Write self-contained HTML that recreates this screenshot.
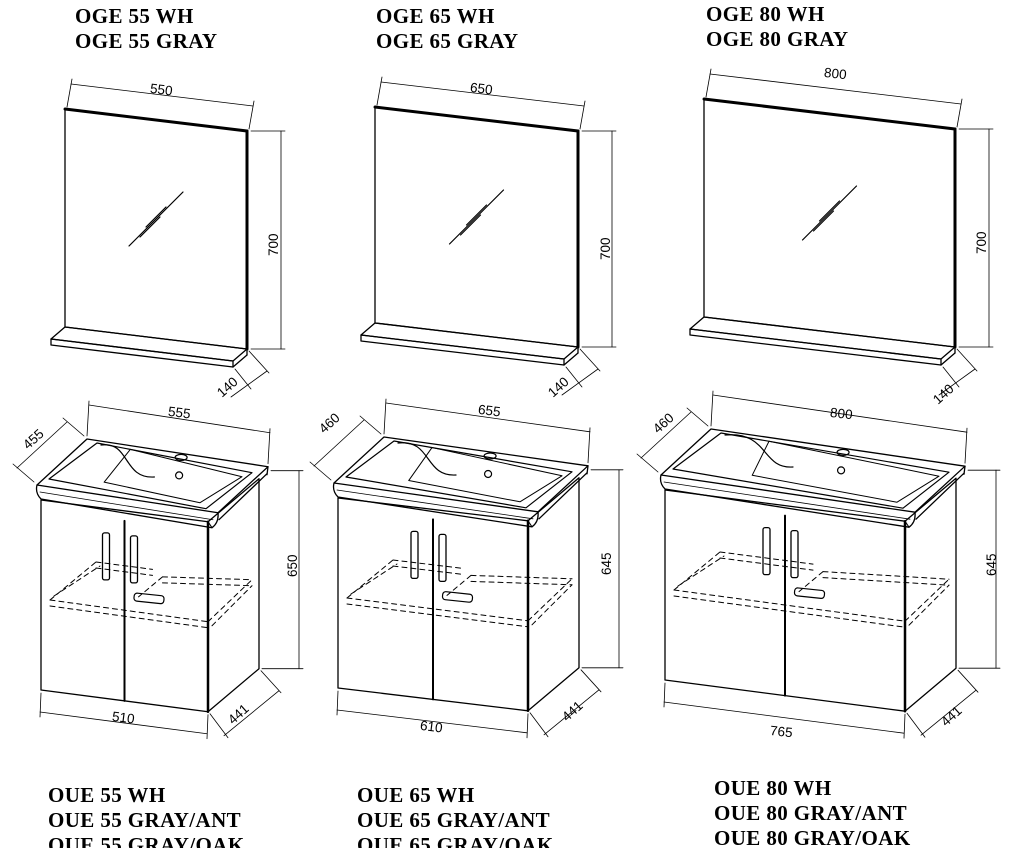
<!DOCTYPE html>
<html><head><meta charset="utf-8"><style>
html,body{margin:0;padding:0;background:#fff;}
svg{display:block}
.t{font-family:"Liberation Serif",serif;font-weight:bold;font-size:21px;letter-spacing:0.4px;fill:#000}
.d{font-family:"Liberation Sans",sans-serif;font-size:13.5px;fill:#000}
</style></head><body>
<svg id="s" width="1010" height="848" viewBox="0 0 1010 848" xmlns="http://www.w3.org/2000/svg">
<g id="g" fill="none" stroke="#000" stroke-linejoin="round" stroke-linecap="round"></g>
<text class="t" x="75" y="23">OGE 55 WH</text><text class="t" x="75" y="48">OGE 55 GRAY</text>
<text class="t" x="376" y="23">OGE 65 WH</text><text class="t" x="376" y="48">OGE 65 GRAY</text>
<text class="t" x="706" y="21">OGE 80 WH</text><text class="t" x="706" y="46">OGE 80 GRAY</text>
<text class="t" x="48" y="802">OUE 55 WH</text><text class="t" x="48" y="827">OUE 55 GRAY/ANT</text><text class="t" x="48" y="852">OUE 55 GRAY/OAK</text>
<text class="t" x="357" y="802">OUE 65 WH</text><text class="t" x="357" y="827">OUE 65 GRAY/ANT</text><text class="t" x="357" y="852">OUE 65 GRAY/OAK</text>
<text class="t" x="714" y="795">OUE 80 WH</text><text class="t" x="714" y="820">OUE 80 GRAY/ANT</text><text class="t" x="714" y="845">OUE 80 GRAY/OAK</text>
<text class="d" x="150" y="94" transform="rotate(7 160 90)">550</text>
<text class="d" x="0" y="0" transform="translate(278 256) rotate(-90)">700</text>
<text class="d" x="0" y="0" transform="translate(222 398) rotate(-42)">140</text>
<text class="d" x="470" y="93" transform="rotate(7 480 89)">650</text>
<text class="d" x="0" y="0" transform="translate(610 260) rotate(-90)">700</text>
<text class="d" x="0" y="0" transform="translate(553 398) rotate(-42)">140</text>
<text class="d" x="824" y="78" transform="rotate(6 834 74)">800</text>
<text class="d" x="0" y="0" transform="translate(986 254) rotate(-90)">700</text>
<text class="d" x="0" y="0" transform="translate(938 405) rotate(-42)">140</text>
<text class="d" x="168" y="417" transform="rotate(7 178 413)">555</text>
<text class="d" x="0" y="0" transform="translate(28 450) rotate(-42)">455</text>
<text class="d" x="0" y="0" transform="translate(297 577) rotate(-90)">650</text>
<text class="d" x="112" y="722" transform="rotate(7 122 718)">510</text>
<text class="d" x="0" y="0" transform="translate(233 725) rotate(-42)">441</text>
<text class="d" x="478" y="415" transform="rotate(7 488 411)">655</text>
<text class="d" x="0" y="0" transform="translate(324 434) rotate(-42)">460</text>
<text class="d" x="0" y="0" transform="translate(611 575) rotate(-90)">645</text>
<text class="d" x="420" y="731" transform="rotate(7 430 727)">610</text>
<text class="d" x="0" y="0" transform="translate(567 722) rotate(-42)">441</text>
<text class="d" x="830" y="418" transform="rotate(6 840 414)">800</text>
<text class="d" x="0" y="0" transform="translate(658 434) rotate(-42)">460</text>
<text class="d" x="0" y="0" transform="translate(996 576) rotate(-90)">645</text>
<text class="d" x="770" y="736" transform="rotate(6 780 732)">765</text>
<text class="d" x="0" y="0" transform="translate(946 727) rotate(-42)">441</text>
</svg>
<script>
var g=document.getElementById('g'),out='';
function L(a,b,c,d,w,ex){out+='<line x1="'+a+'" y1="'+b+'" x2="'+c+'" y2="'+d+'" stroke-width="'+(w||0.8)+'"'+(ex||'')+'/>';}
function P(pts,w,ex){out+='<polygon points="'+pts.map(p=>p.join(',')).join(' ')+'" stroke-width="'+(w||1.2)+'"'+(ex||'')+'/>';}
function D(d,w,ex){out+='<path d="'+d+'" stroke-width="'+(w||1.2)+'"'+(ex||'')+'/>';}
function mirror(xL,yL,xR,yR,H){
  P([[xL,yL],[xR,yR],[xR,yR+H],[xL,yL+H]],1.3);
  L(xL,yL,xR,yR,3);L(xR,yR,xR,yR+H,3);
  var sx=-14,sy=12;
  P([[xL,yL+H],[xR,yR+H],[xR+sx,yR+H+sy],[xL+sx,yL+H+sy]],1.3);
  P([[xL+sx,yL+H+sy],[xR+sx,yR+H+sy],[xR+sx,yR+H+sy+6],[xL+sx,yL+H+sy+6]],1.3);
  L(xR,yR+H,xR,yR+H+6,1.3);L(xR,yR+H+6,xR+sx,yR+H+sy+6,1.3);
  var cx=(xL+xR)/2,cy=(yL+yR)/2+H/2-10;
  L(cx-27,cy+27,cx+27,cy-27,1.2);L(cx-10,cy+8,cx+10,cy-12,1.2);L(cx-16,cy+18,cx+4,cy-2,1.2);
  L(xL+2,yL-2,xL+7,yL-30);L(xR+2,yR-2,xR+7,yR-30);L(xL+6,yL-25,xR+6,yR-25);
  L(xR+4,yR,xR+38,yR);L(xR+4,yR+H,xR+38,yR+H);L(xR+34,yR,xR+34,yR+H);
  L(xR+2,yR+H+2,xR+22,yR+H+24);L(xR+sx+2,yR+H+sy+8,xR+sx+18,yR+H+sy+28);L(xR+20,yR+H+22,xR+sx-2,yR+H+sy+36);
}
mirror(65,109,247,131,218);
mirror(375,107,578,131,216);
mirror(704,99,955,129,218);
function cab(x0,W,yT,H,s){
  var fr=x0+W,yR=yT+W*s,dx=51,dy=-43;
  P([[x0,yT],[fr,yR],[fr,yR+H],[x0,yT+H]],1.3);
  P([[fr,yR],[fr+dx,yR+dy],[fr+dx,yR+dy+H],[fr,yR+H]],1.3);
  L(fr,yR,fr,yR+H,2.5);
  var mx=x0+W/2;L(mx,yT+W/2*s+10,mx,yT+W/2*s+H,2);
  var a=[x0-4,yT-15],b=[fr+10,yR-9],bb=[b[0]+50,b[1]-46],ab=[a[0]+50,a[1]-46];
  P([a,b,bb,ab],1.3);
  D('M'+a[0]+','+a[1]+' Q'+(a[0]-2)+','+(a[1]+8)+' '+(a[0]+4)+','+(a[1]+14)+' L'+(b[0]-6)+','+(b[1]+15)+' Q'+(b[0]+1)+','+(b[1]+10)+' '+b[0]+','+b[1],1.3);
  L(b[0]-6,b[1]+15,fr,yR,1);L(b[0]+1,b[1]+7,bb[0]-1,bb[1]+7,1.3);L(bb[0],bb[1],bb[0]-1,bb[1]+8,1.3);
  L(a[0]+3,a[1]+7,b[0]-5,b[1]+7,0.8);
  var iw=[a[0]+12,a[1]-6],ie=[b[0]-12,b[1]-4],ie2=[bb[0]-16,bb[1]+6],iw2=[ab[0]+10,ab[1]+4];
  P([iw,ie,ie2,iw2],1.2);
  P([[iw[0]+W*0.33,iw[1]+W*0.33*s-4],[ie[0]-6,ie[1]-6],[ie2[0]-10,ie2[1]+4],[iw2[0]+W*0.2,iw2[1]+W*0.2*s+2]],1,' stroke-width="1"');
  var wx=iw2[0]+W*0.2,wy=iw2[1]+6;
  D('M'+(iw2[0]+4)+','+(iw2[1]+2)+' C'+(wx)+','+(wy-8)+' '+(wx-8)+','+(wy+30)+' '+(wx+24)+','+(wy+28),1.2);
  var hx=ab[0]+(bb[0]-ab[0])*0.52,hy=ab[1]+(bb[1]-ab[1])*0.52;
  out+='<ellipse cx="'+hx+'" cy="'+(hy+4)+'" rx="6" ry="3" stroke-width="1.2"/>';
  out+='<circle cx="'+(hx-2)+'" cy="'+(hy+22)+'" r="3.5" stroke-width="1.2"/>';
  var hy1=yT+W/2*s+22;
  out+='<rect x="'+(mx-22)+'" y="'+hy1+'" width="7" height="47" rx="2" stroke-width="1.3"/>';
  out+='<rect x="'+(mx+6)+'" y="'+(hy1+3)+'" width="7" height="47" rx="2" stroke-width="1.3"/>';
  out+='<rect x="'+(mx+10)+'" y="'+(hy1+60)+'" width="30" height="8" rx="3" stroke-width="1.2" transform="rotate(6 '+(mx+10)+' '+(hy1+60)+')"/>';
  var das=' stroke-dasharray="5,4"';
  var t1=[x0+9,yT+100],t2=[fr,yR+100],t3=[fr+44,yR+58],t0=[x0+55,yT+62];
  L(t1[0],t1[1],t2[0],t2[1],1,das);L(t1[0],t1[1]+6,t2[0],t2[1]+6,1,das);
  L(t2[0],t2[1],t3[0],t3[1],1,das);L(t2[0]+4,t2[1]+4,t3[0],t3[1]+6,1,das);
  L(t1[0],t1[1],t0[0],t0[1],1,das);L(t1[0]+4,t1[1]-4,t0[0]+4,t0[1]+4,1,das);
  L(t0[0],t0[1],mx+28,t0[1]+((mx+28-t0[0])*s),1,das);L(t0[0],t0[1]+6,mx+28,t0[1]+6+((mx+28-t0[0])*s),1,das);
  var q=[mx+38,yT+W/2*s+66];
  L(q[0],q[1],t3[0],t3[1],1,das);L(q[0],q[1]+6,t3[0],t3[1]+6,1,das);
  L(q[0],q[1],mx+14,q[1]+20,1,das);
  var o=-34;
  L(ab[0],ab[1]-3,ab[0]+2,ab[1]+o-4);L(bb[0],bb[1]-3,bb[0]+2,bb[1]+o-4);L(ab[0]+2,ab[1]+o,bb[0]+2,bb[1]+o);
  L(a[0]-3,a[1]-3,a[0]-24,a[1]-21);L(ab[0]-3,ab[1]-3,ab[0]-24,ab[1]-21);L(a[0]-20,a[1]-17,ab[0]-20,ab[1]-17);
  var hxx=fr+dx+40;L(bb[0]+3,bb[1]+4,hxx+4,bb[1]+4);L(fr+dx+3,yR+dy+H,hxx+4,yR+dy+H);L(hxx,bb[1]+4,hxx,yR+dy+H);
  L(x0,yT+H+3,x0-1,yT+H+27);L(fr,yR+H+3,fr-1,yR+H+27);L(x0-1,yT+H+22,fr-1,yR+H+22);
  L(fr+2,yR+H+2,fr+20,yR+H+26);L(fr+dx+2,yR+dy+H+2,fr+dx+22,yR+dy+H+24);L(fr+16,yR+H+24,fr+dx+20,yR+dy+H+22);
}
cab(41,167,500,190,0.13);
cab(338,190,498,190,0.12);
cab(665,240,490,190,0.13);
g.innerHTML=out;
</script>
</body></html>
